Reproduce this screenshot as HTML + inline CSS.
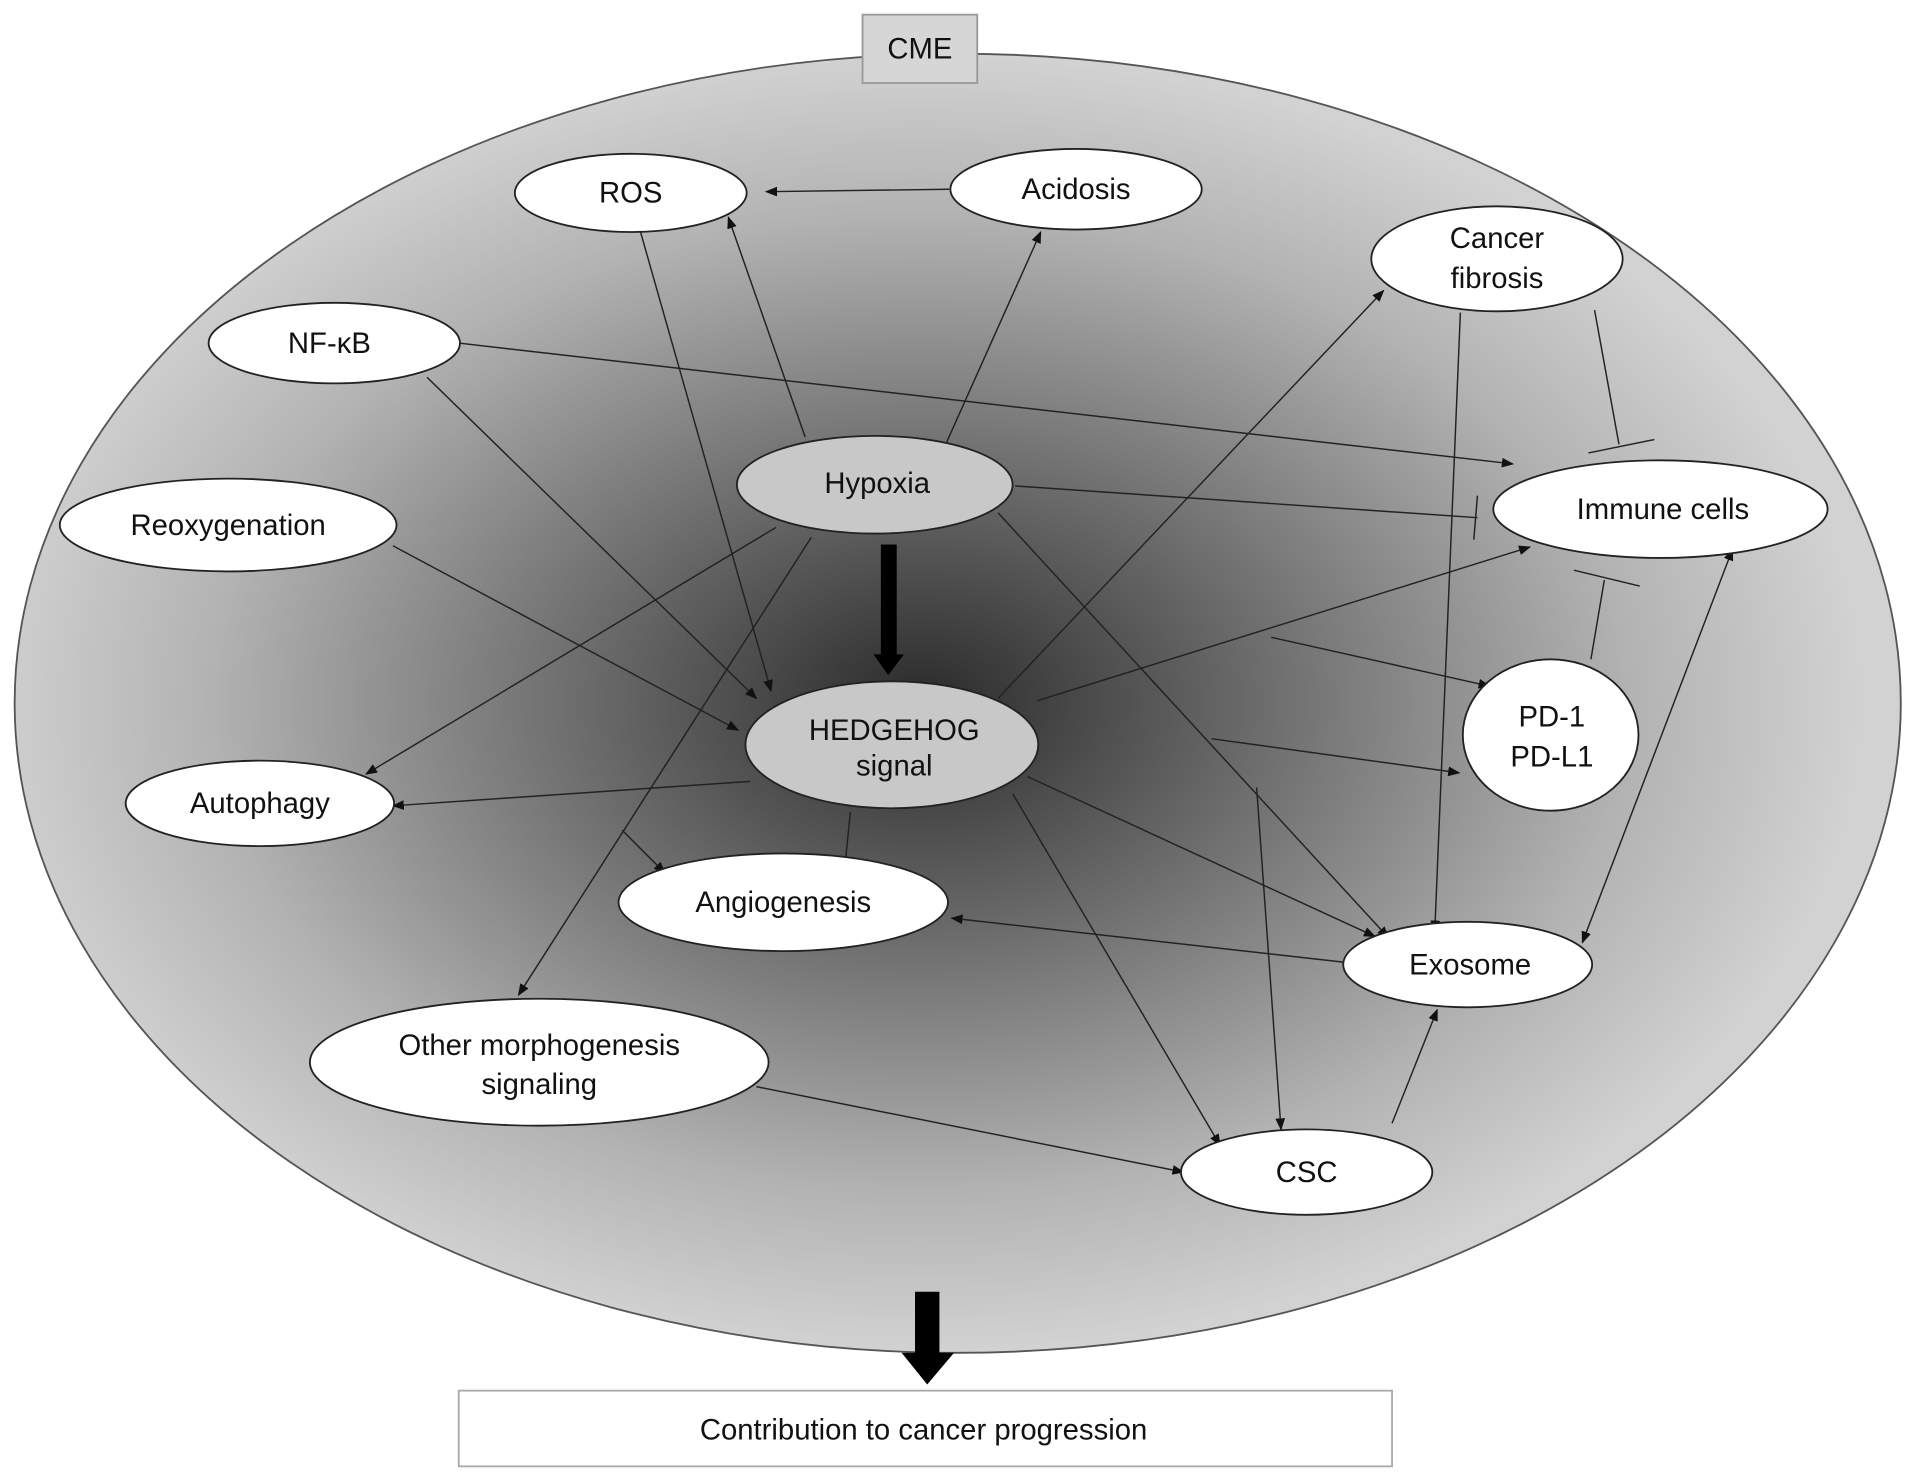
<!DOCTYPE html>
<html><head><meta charset="utf-8"><style>
html,body{margin:0;padding:0;background:#fff;width:1913px;height:1481px;overflow:hidden}
svg{display:block}
text{font-family:"Liberation Sans",Arial,sans-serif;font-size:24px;fill:#111;text-anchor:middle}
</style></head><body>
<svg width="1913" height="1481" viewBox="0 0 1568 1213" preserveAspectRatio="none" xmlns="http://www.w3.org/2000/svg">
<defs>
<radialGradient id="g" cx="0.48" cy="0.5" r="0.5">
<stop offset="0" stop-color="#2a2a2a"/>
<stop offset="0.35" stop-color="#6a6a6a"/>
<stop offset="0.75" stop-color="#b2b2b2"/>
<stop offset="1" stop-color="#d2d2d2"/>
</radialGradient>
<marker id="a" markerWidth="10" markerHeight="8" refX="9" refY="4" orient="auto" markerUnits="userSpaceOnUse"><path d="M0,0 L10,4 L0,8 z" fill="#111"/></marker>
<marker id="s" markerWidth="10" markerHeight="8" refX="1" refY="4" orient="auto" markerUnits="userSpaceOnUse"><path d="M10,0 L0,4 L10,8 z" fill="#111"/></marker>
</defs>
<ellipse cx="785" cy="576" rx="773" ry="532" fill="url(#g)" stroke="#555" stroke-width="1.5"/>
<rect x="707" y="12" width="94" height="56" fill="#d6d6d6" stroke="#999" stroke-width="1.5"/>
<text x="754" y="48">CME</text>

<g stroke="#222" stroke-width="1.2" fill="none" marker-end="url(#a)">
<line x1="778" y1="155" x2="628" y2="157"/>
<line x1="660" y1="358" x2="597" y2="178"/>
<line x1="776" y1="362" x2="853" y2="190"/>
<line x1="525" y1="190" x2="632" y2="566"/>
<line x1="350" y1="309" x2="620" y2="572"/>
<line x1="376" y1="281" x2="1240" y2="380"/>
<line x1="322" y1="447" x2="605" y2="598"/>
<line x1="636" y1="432" x2="300" y2="634"/>
<line x1="665" y1="440" x2="425" y2="815"/>
<line x1="818" y1="420" x2="1138" y2="768"/>
<line x1="818" y1="572" x2="1134" y2="238"/>
<line x1="850" y1="574" x2="1254" y2="448"/>
<line x1="615" y1="640" x2="322" y2="660"/>
<line x1="697" y1="665" x2="692" y2="715"/>
<line x1="842" y1="636" x2="1127" y2="767"/>
<line x1="830" y1="650" x2="1000" y2="938"/>
<line x1="510" y1="680" x2="545" y2="715"/>
<line x1="1042" y1="522" x2="1221" y2="562"/>
<line x1="993" y1="605" x2="1196" y2="633"/>
<line x1="1197" y1="256" x2="1176" y2="763"/>
<line x1="1420" y1="450" x2="1297" y2="772" marker-start="url(#s)"/>
<line x1="1101" y1="788" x2="780" y2="752"/>
<line x1="1141" y1="920" x2="1178" y2="827"/>
<line x1="1030" y1="645" x2="1050" y2="925"/>
<line x1="620" y1="890" x2="970" y2="960"/>
</g>
<g stroke="#222" stroke-width="1.2" fill="none">
<line x1="832" y1="398" x2="1211" y2="424"/>
<line x1="1211" y1="406" x2="1208" y2="442"/>
<line x1="1307" y1="254" x2="1327" y2="364"/>
<line x1="1302" y1="371" x2="1356" y2="360"/>
<line x1="1304" y1="540" x2="1315" y2="475"/>
<line x1="1290" y1="467" x2="1344" y2="480"/>
</g>
<!-- thick arrows -->
<rect x="722" y="446" width="13" height="92" fill="#000"/>
<path d="M716,536 L741,536 L728,553 z" fill="#000"/>
<rect x="750" y="1058" width="20" height="52" fill="#000"/>
<path d="M739,1108 L782,1108 L760,1134 z" fill="#000"/>

<g stroke="#222" stroke-width="1.5">
<ellipse cx="517" cy="158" rx="95" ry="32" fill="#fff"/>
<ellipse cx="882" cy="155" rx="103" ry="33" fill="#fff"/>
<ellipse cx="1227" cy="212" rx="103" ry="43" fill="#fff"/>
<ellipse cx="274" cy="281" rx="103" ry="33" fill="#fff"/>
<ellipse cx="717" cy="397" rx="113" ry="40" fill="#c8c8c8"/>
<ellipse cx="187" cy="430" rx="138" ry="38" fill="#fff"/>
<ellipse cx="1361" cy="417" rx="137" ry="40" fill="#fff"/>
<ellipse cx="731" cy="610" rx="120" ry="52" fill="#c8c8c8"/>
<ellipse cx="1271" cy="602" rx="72" ry="62" fill="#fff"/>
<ellipse cx="213" cy="658" rx="110" ry="35" fill="#fff"/>
<ellipse cx="642" cy="739" rx="135" ry="40" fill="#fff"/>
<ellipse cx="1203" cy="790" rx="102" ry="35" fill="#fff"/>
<ellipse cx="442" cy="870" rx="188" ry="52" fill="#fff"/>
<ellipse cx="1071" cy="960" rx="103" ry="35" fill="#fff"/>
</g>
<text x="517" y="166">ROS</text>
<text x="882" y="163">Acidosis</text>
<text x="1227" y="203">Cancer</text>
<text x="1227" y="236">fibrosis</text>
<text x="270" y="289">NF-κB</text>
<text x="719" y="404">Hypoxia</text>
<text x="187" y="438">Reoxygenation</text>
<text x="1363" y="425">Immune cells</text>
<text x="733" y="606">HEDGEHOG</text>
<text x="733" y="635">signal</text>
<text x="1272" y="595">PD-1</text>
<text x="1272" y="628">PD-L1</text>
<text x="213" y="666">Autophagy</text>
<text x="642" y="747">Angiogenesis</text>
<text x="1205" y="798">Exosome</text>
<text x="442" y="864">Other morphogenesis</text>
<text x="442" y="896">signaling</text>
<text x="1071" y="968">CSC</text>

<rect x="376" y="1139" width="765" height="62" fill="#fff" stroke="#aaa" stroke-width="1.5"/>
<text x="757" y="1179">Contribution to cancer progression</text>
</svg>
</body></html>
